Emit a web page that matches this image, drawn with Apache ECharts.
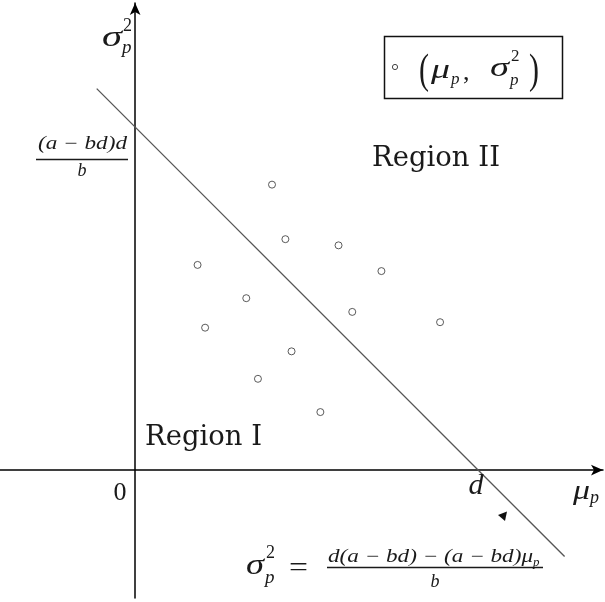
<!DOCTYPE html>
<html>
<head>
<meta charset="utf-8">
<script src="https://cdn.jsdelivr.net/npm/echarts@6/dist/echarts.min.js"></script>
<style>
  html, body { margin: 0; padding: 0; background: #fff; }
  #chart { width: 605px; height: 602px; }
</style>
</head>
<body>
<div id="chart"></div>
<script>
// Portfolio points: mean (mu_p) and variance (sigma_p^2), in units where d = 10
const muP = [3.99, 4.38, 5.93, 1.82, 7.18, 3.24, 6.33, 8.89, 2.04, 4.56, 3.58, 5.40];
const sigma2P = [8.32, 6.73, 6.55, 5.98, 5.80, 5.01, 4.61, 4.31, 4.15, 3.46, 2.66, 1.69];

// Boundary line sigma_p^2 = ((a-bd)d - (a-bd)mu_p)/b, drawn between its two ends
const lineMu = [-1.12, 12.52];
const lineSigma2 = [11.12, -2.52];

// Axis extents
const muRange = [-3.94, 13.64];
const sigma2Range = [-3.73, 13.615];

const chart = echarts.init(document.getElementById('chart'), null, { renderer: 'canvas' });

const measureCtx = document.createElement('canvas').getContext('2d');
const SERIF = '"Liberation Serif", "DejaVu Serif", serif';
const DSERIF = '"DejaVu Serif", "Liberation Serif", serif';

// Text piece placed by its left edge (or centre) and vertical middle,
// optionally stretched horizontally to a given width.
function txt(s, x, cy, size, o) {
  o = o || {};
  const family = o.family || SERIF;
  const style = o.italic ? 'italic ' : '';
  const font = style + size + 'px ' + family;
  let sx = 1;
  if (o.width) {
    measureCtx.font = font;
    sx = o.width / measureCtx.measureText(s).width;
  }
  return {
    type: 'text', x: x, y: cy, scaleX: sx, scaleY: o.sy || 1,
    silent: true, z: 10,
    style: {
      text: s, font: font, fill: o.color || '#1a1a1a',
      align: o.align || 'left', verticalAlign: 'middle'
    }
  };
}
function hline(x1, x2, y, w) {
  return { type: 'line', silent: true, z: 10,
    shape: { x1: x1, y1: y, x2: x2, y2: y },
    style: { stroke: '#1a1a1a', lineWidth: w || 1.3 } };
}

const graphics = [
  // vertical axis title sigma_p^2
  txt('σ', 102, 38, 30, { italic: true, width: 20 }),
  txt('2', 123, 26, 18),
  txt('p', 122, 48, 19, { italic: true }),

  // intercept label (a-bd)d / b
  txt('(a − bd)d', 38, 144, 18, { italic: true, width: 89 }),
  hline(36, 128, 159.5),
  txt('b', 82, 171, 18, { italic: true, align: 'center' }),

  // origin, d and horizontal axis title
  txt('0', 120, 493, 26, { align: 'center' }),
  txt('d', 476, 486, 30, { italic: true, align: 'center' }),
  txt('μ', 573, 492, 28, { italic: true, width: 17 }),
  txt('p', 590, 498, 18, { italic: true }),

  // region names
  txt('Region II', 372, 159, 27, { family: DSERIF, width: 128 }),
  txt('Region I', 145, 438, 27, { family: DSERIF, width: 117 }),

  // legend box
  { type: 'rect', silent: true, z: 10,
    shape: { x: 384.5, y: 36.5, width: 178, height: 62 },
    style: { fill: 'none', stroke: '#111', lineWidth: 1.5 } },
  { type: 'circle', silent: true, z: 10,
    shape: { cx: 395, cy: 67, r: 2.6 },
    style: { fill: '#fff', stroke: '#444', lineWidth: 1 } },
  txt('(', 419, 72, 30, { sy: 1.4 }),
  txt('μ', 431, 71, 27, { italic: true, width: 19 }),
  txt('p', 451, 80, 17, { italic: true }),
  txt(',', 463, 73, 26),
  txt('σ', 490, 69, 27, { italic: true, width: 19 }),
  txt('2', 511, 57, 17),
  txt('p', 510, 81, 17, { italic: true }),
  txt(')', 529, 72, 30, { sy: 1.4 }),

  // boundary equation
  txt('σ', 246, 566, 30, { italic: true, width: 18 }),
  txt('2', 266, 553, 18),
  txt('p', 265, 578, 19, { italic: true }),
  txt('=', 289, 569, 28, { width: 19 }),
  txt('d(a − bd) − (a − bd)μ', 328, 557, 18, { italic: true, width: 205 }),
  txt('p', 533, 563, 13, { italic: true }),
  hline(327, 543, 567.5),
  txt('b', 435, 582, 18, { italic: true, align: 'center' }),

  // small arrow head near the line
  { type: 'polygon', silent: true, z: 10,
    shape: { points: [[498, 515], [507, 511.5], [505, 521]] },
    style: { fill: '#111' } }
];

const axisCommon = {
  type: 'value',
  axisLine: {
    show: true, onZero: true,
    symbol: ['none', 'arrow'], symbolSize: [8, 12],
    lineStyle: { color: '#000', width: 1.5 }
  },
  axisTick: { show: false },
  axisLabel: { show: false },
  splitLine: { show: false }
};

chart.setOption({
  animation: false,
  backgroundColor: '#fff',
  grid: { left: 0, right: 2, top: 3, bottom: 4, containLabel: false },
  xAxis: Object.assign({}, axisCommon, { min: muRange[0], max: muRange[1] }),
  yAxis: Object.assign({}, axisCommon, { min: sigma2Range[0], max: sigma2Range[1] }),
  series: [
    {
      type: 'line',
      data: lineMu.map((m, i) => [m, lineSigma2[i]]),
      symbol: 'none',
      silent: true,
      lineStyle: { color: '#555', width: 1.3 }
    },
    {
      type: 'scatter',
      data: muP.map((m, i) => [m, sigma2P[i]]),
      symbol: 'circle',
      symbolSize: 7,
      silent: true,
      itemStyle: { color: '#fff', borderColor: '#333', borderWidth: 1 }
    }
  ],
  graphic: graphics
});
</script>
</body>
</html>
